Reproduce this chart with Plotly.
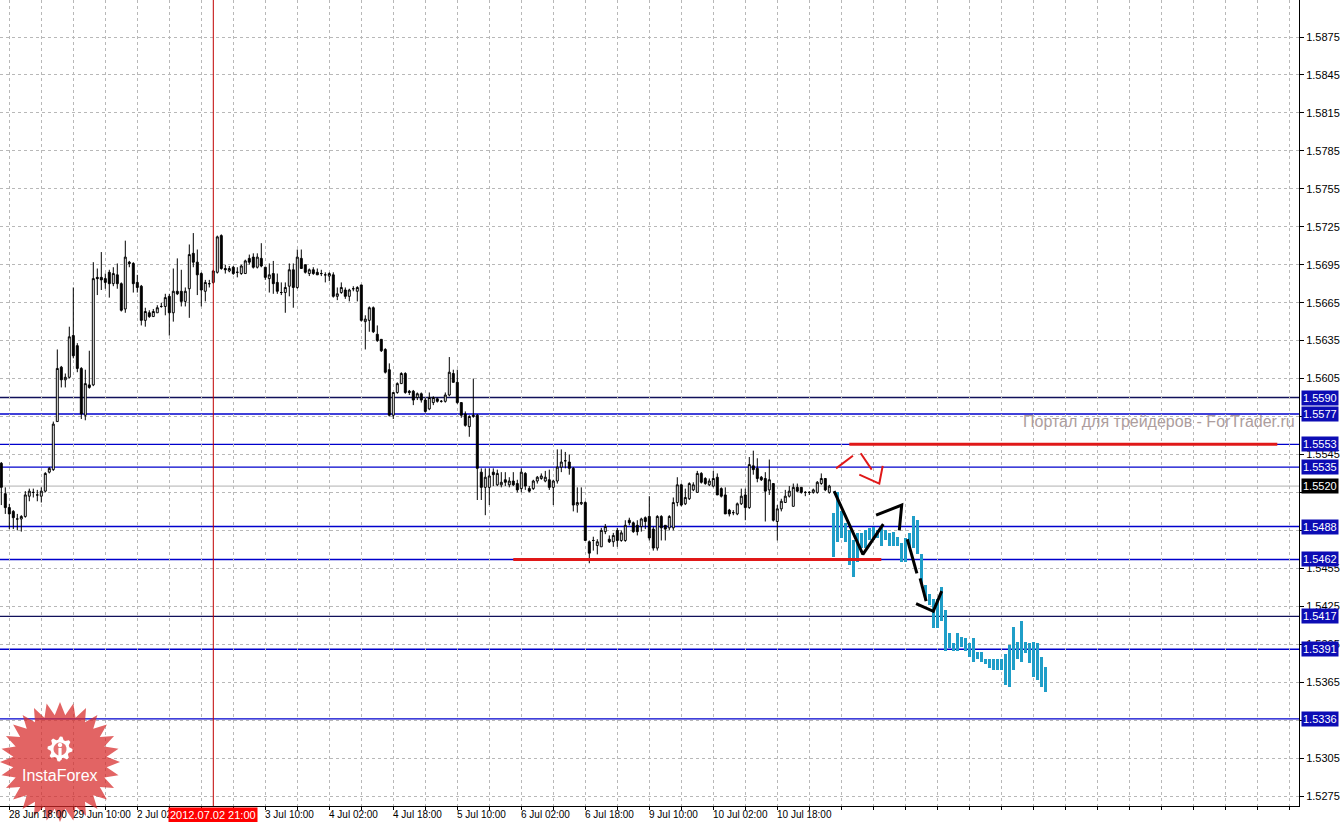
import numpy as np
import plotly.graph_objects as go

# ---------------- data (GBPUSD H1) ----------------
open_ = [1.5538,1.5514,1.5503,1.5500,1.5494,1.5494,1.5496,1.5512,1.5515,1.5513,
         1.5512,1.5516,1.5531,1.5533,1.5571,1.5614,1.5604,1.5606,1.5639,1.5631,
         1.5613,1.5576,1.5600,1.5600,1.5685,1.5685,1.5684,1.5689,1.5680,1.5687,
         1.5680,1.5660,1.5697,1.5696,1.5681,1.5678,1.5651,1.5657,1.5654,1.5657,
         1.5662,1.5662,1.5670,1.5657,1.5674,1.5674,1.5666,1.5676,1.5704,1.5697,
         1.5688,1.5674,1.5680,1.5681,1.5689,1.5718,1.5692,1.5690,1.5693,1.5689,
         1.5688,1.5688,1.5700,1.5701,1.5693,1.5700,1.5693,1.5684,1.5688,1.5681,
         1.5673,1.5673,1.5678,1.5691,1.5677,1.5700,1.5695,1.5688,1.5691,1.5689,
         1.5688,1.5687,1.5686,1.5687,1.5670,1.5673,1.5675,1.5670,1.5676,1.5674,
         1.5679,1.5650,1.5651,1.5661,1.5640,1.5636,1.5628,1.5612,1.5576,1.5594,
         1.5601,1.5609,1.5595,1.5595,1.5590,1.5593,1.5588,1.5581,1.5586,1.5589,
         1.5587,1.5587,1.5592,1.5609,1.5602,1.5586,1.5577,1.5567,1.5575,1.5576,
         1.5531,1.5519,1.5519,1.5531,1.5521,1.5521,1.5525,1.5521,1.5524,1.5522,
         1.5518,1.5530,1.5518,1.5518,1.5524,1.5526,1.5524,1.5525,1.5519,1.5524,
         1.5535,1.5540,1.5539,1.5534,1.5505,1.5506,1.5507,1.5476,1.5477,1.5473,
         1.5472,1.5484,1.5478,1.5476,1.5485,1.5477,1.5477,1.5493,1.5491,1.5489,
         1.5488,1.5495,1.5496,1.5486,1.5471,1.5496,1.5489,1.5487,1.5487,1.5507,
         1.5521,1.5506,1.5510,1.5517,1.5515,1.5530,1.5526,1.5521,1.5520,1.5527,
         1.5518,1.5513,1.5501,1.5499,1.5498,1.5506,1.5513,1.5503,1.5536,1.5534,
         1.5527,1.5526,1.5517,1.5522,1.5492,1.5502,1.5507,1.5512,1.5504,1.5519,
         1.5519,1.5515,1.5515,1.5515,1.5515,1.5522,1.5526,1.5515]
high = [1.5539,1.5519,1.5506,1.5501,1.5498,1.5497,1.5516,1.5518,1.5518,1.5517,
        1.5519,1.5531,1.5535,1.5571,1.5628,1.5615,1.5609,1.5646,1.5677,1.5633,
        1.5614,1.5612,1.5627,1.5697,1.5692,1.5705,1.5688,1.5691,1.5693,1.5696,
        1.5681,1.5714,1.5698,1.5697,1.5687,1.5679,1.5661,1.5659,1.5660,1.5663,
        1.5665,1.5672,1.5672,1.5692,1.5700,1.5691,1.5677,1.5711,1.5720,1.5707,
        1.5689,1.5683,1.5683,1.5691,1.5718,1.5719,1.5695,1.5694,1.5694,1.5693,
        1.5695,1.5699,1.5703,1.5704,1.5704,1.5712,1.5693,1.5696,1.5698,1.5688,
        1.5681,1.5681,1.5696,1.5696,1.5707,1.5707,1.5695,1.5692,1.5693,1.5692,
        1.5691,1.5689,1.5689,1.5689,1.5677,1.5681,1.5677,1.5676,1.5678,1.5678,
        1.5679,1.5655,1.5662,1.5662,1.5647,1.5636,1.5629,1.5617,1.5594,1.5602,
        1.5610,1.5610,1.5596,1.5596,1.5594,1.5594,1.5590,1.5594,1.5591,1.5590,
        1.5588,1.5594,1.5622,1.5612,1.5612,1.5586,1.5579,1.5576,1.5605,1.5577,
        1.5534,1.5534,1.5534,1.5534,1.5533,1.5531,1.5531,1.5527,1.5531,1.5525,
        1.5534,1.5531,1.5520,1.5525,1.5528,1.5530,1.5532,1.5533,1.5525,1.5549,
        1.5549,1.5547,1.5545,1.5535,1.5519,1.5519,1.5508,1.5477,1.5480,1.5478,
        1.5487,1.5490,1.5481,1.5483,1.5487,1.5485,1.5493,1.5495,1.5492,1.5493,
        1.5495,1.5496,1.5512,1.5488,1.5497,1.5497,1.5489,1.5497,1.5511,1.5527,
        1.5522,1.5518,1.5523,1.5523,1.5532,1.5531,1.5527,1.5526,1.5532,1.5530,
        1.5519,1.5519,1.5502,1.5501,1.5507,1.5518,1.5518,1.5543,1.5548,1.5542,
        1.5528,1.5531,1.5541,1.5522,1.5505,1.5510,1.5517,1.5520,1.5522,1.5522,
        1.5519,1.5516,1.5516,1.5518,1.5524,1.5530,1.5526,1.5521]
low = [1.5505,1.5498,1.5486,1.5486,1.5485,1.5484,1.5495,1.5508,1.5511,1.5508,
       1.5507,1.5515,1.5530,1.5532,1.5571,1.5598,1.5598,1.5605,1.5621,1.5610,
       1.5573,1.5572,1.5597,1.5599,1.5671,1.5675,1.5676,1.5669,1.5678,1.5676,
       1.5658,1.5657,1.5693,1.5673,1.5673,1.5647,1.5646,1.5653,1.5654,1.5657,
       1.5661,1.5655,1.5639,1.5650,1.5671,1.5662,1.5662,1.5653,1.5693,1.5671,
       1.5662,1.5666,1.5677,1.5680,1.5688,1.5691,1.5688,1.5689,1.5687,1.5685,
       1.5687,1.5688,1.5695,1.5692,1.5692,1.5693,1.5683,1.5673,1.5672,1.5672,
       1.5671,1.5657,1.5670,1.5661,1.5676,1.5692,1.5688,1.5686,1.5687,1.5687,
       1.5686,1.5681,1.5682,1.5669,1.5667,1.5672,1.5668,1.5666,1.5674,1.5666,
       1.5650,1.5628,1.5642,1.5641,1.5634,1.5626,1.5609,1.5575,1.5573,1.5593,
       1.5601,1.5593,1.5592,1.5584,1.5588,1.5586,1.5578,1.5580,1.5584,1.5586,
       1.5586,1.5586,1.5591,1.5602,1.5585,1.5574,1.5567,1.5559,1.5574,1.5509,
       1.5509,1.5497,1.5505,1.5520,1.5520,1.5519,1.5520,1.5519,1.5520,1.5515,
       1.5515,1.5517,1.5515,1.5517,1.5522,1.5525,1.5523,1.5517,1.5505,1.5522,
       1.5531,1.5534,1.5529,1.5500,1.5499,1.5505,1.5477,1.5459,1.5469,1.5466,
       1.5472,1.5482,1.5475,1.5472,1.5472,1.5476,1.5476,1.5489,1.5483,1.5481,
       1.5484,1.5486,1.5477,1.5469,1.5469,1.5477,1.5477,1.5485,1.5485,1.5504,
       1.5504,1.5505,1.5509,1.5516,1.5515,1.5522,1.5521,1.5520,1.5519,1.5513,
       1.5511,1.5498,1.5496,1.5497,1.5497,1.5505,1.5493,1.5502,1.5529,1.5523,
       1.5524,1.5492,1.5513,1.5492,1.5477,1.5500,1.5507,1.5511,1.5504,1.5515,
       1.5514,1.5512,1.5513,1.5514,1.5514,1.5521,1.5516,1.5514]
close = [1.5519,1.5503,1.5498,1.5495,1.5494,1.5496,1.5513,1.5516,1.5515,1.5513,
         1.5516,1.5530,1.5534,1.5569,1.5613,1.5604,1.5606,1.5638,1.5623,1.5613,
         1.5577,1.5601,1.5598,1.5684,1.5684,1.5683,1.5681,1.5680,1.5688,1.5680,
         1.5659,1.5701,1.5696,1.5680,1.5677,1.5651,1.5658,1.5654,1.5658,1.5661,
         1.5662,1.5669,1.5657,1.5674,1.5672,1.5666,1.5674,1.5703,1.5697,1.5687,
         1.5675,1.5681,1.5680,1.5690,1.5717,1.5692,1.5691,1.5692,1.5688,1.5689,
         1.5694,1.5698,1.5697,1.5693,1.5701,1.5694,1.5685,1.5687,1.5680,1.5674,
         1.5673,1.5677,1.5691,1.5677,1.5701,1.5692,1.5689,1.5691,1.5688,1.5687,
         1.5688,1.5687,1.5688,1.5670,1.5672,1.5677,1.5670,1.5675,1.5676,1.5677,
         1.5651,1.5652,1.5661,1.5642,1.5635,1.5627,1.5610,1.5576,1.5594,1.5601,
         1.5609,1.5594,1.5594,1.5588,1.5593,1.5588,1.5579,1.5590,1.5590,1.5587,
         1.5587,1.5592,1.5610,1.5602,1.5586,1.5576,1.5568,1.5575,1.5576,1.5534,
         1.5519,1.5527,1.5528,1.5529,1.5530,1.5523,1.5523,1.5524,1.5521,1.5517,
         1.5531,1.5520,1.5516,1.5524,1.5527,1.5528,1.5527,1.5519,1.5524,1.5535,
         1.5539,1.5540,1.5534,1.5505,1.5507,1.5507,1.5477,1.5467,1.5477,1.5476,
         1.5485,1.5488,1.5476,1.5481,1.5477,1.5483,1.5489,1.5491,1.5484,1.5484,
         1.5494,1.5492,1.5479,1.5471,1.5496,1.5487,1.5486,1.5496,1.5507,1.5521,
         1.5505,1.5511,1.5522,1.5521,1.5530,1.5523,1.5522,1.5524,1.5526,1.5513,
         1.5512,1.5498,1.5498,1.5499,1.5506,1.5512,1.5503,1.5537,1.5533,1.5526,
         1.5525,1.5516,1.5525,1.5493,1.5502,1.5508,1.5512,1.5516,1.5519,1.5516,
         1.5515,1.5515,1.5515,1.5517,1.5523,1.5526,1.5517,1.5520]

# forecast bars (cyan), one per hour after the last real candle
fc_high = [1.5499,1.5515,1.5500,1.5491,1.5485,1.5477,1.5483,1.5483,1.5485,1.5487,
           1.5488,1.5485,1.5487,1.5485,1.5483,1.5484,1.5480,1.5475,1.5479,1.5483,
           1.5496,1.5493,1.5466,1.5442,1.5435,1.5431,1.5431,1.5440,1.5422,1.5404,
           1.5396,1.5404,1.5401,1.5400,1.5396,1.5400,1.5389,1.5389,1.5383,1.5383,
           1.5383,1.5383,1.5383,1.5387,1.5394,1.5409,1.5397,1.5413,1.5397,1.5396,
           1.5397,1.5396,1.5385,1.5377]
fc_low = [1.5464,1.5476,1.5479,1.5476,1.5458,1.5448,1.5460,1.5471,1.5471,1.5477,
          1.5477,1.5479,1.5473,1.5477,1.5473,1.5473,1.5473,1.5460,1.5460,1.5471,
          1.5471,1.5466,1.5443,1.5430,1.5426,1.5408,1.5408,1.5413,1.5390,1.5392,
          1.5390,1.5390,1.5393,1.5390,1.5385,1.5381,1.5383,1.5381,1.5379,1.5376,
          1.5375,1.5375,1.5375,1.5363,1.5361,1.5375,1.5383,1.5381,1.5388,1.5380,
          1.5369,1.5367,1.5361,1.5357]

# horizontal support / resistance levels
levels = [1.5590, 1.5577, 1.5553, 1.5535, 1.5488, 1.5462, 1.5417, 1.5391, 1.5336]
level_colors = ["#10105a", "#0000cc", "#0000cc", "#0000cc", "#0000cc",
                "#0000cc", "#10105a", "#0000cc", "#0000cc"]
current_price = 1.5520

# thick red horizontal zones: (price, start bar, end bar)
red_level_price = [1.5553, 1.5462]
red_level_start = [212, 128]
red_level_end = [319, 220]

# hand drawn zig-zag (bar index, price)
zz_black_x = [[208.2, 215.4, 220.5], [218.7, 225.1, 224.5], [226.5, 228.9], [229.7, 231.2],
              [228.7, 233.0, 235.1]]
zz_black_y = [[1.5516, 1.5466, 1.5490], [1.5497, 1.5505, 1.5485], [1.5478, 1.5451],
              [1.5447, 1.5429], [1.5427, 1.5421, 1.5437]]
zz_red_x = [[208.7, 212.9], [214.85, 217.6], [214.5, 219.5, 220.35]]
zz_red_y = [[1.5534, 1.5544], [1.5546, 1.5533], [1.5529, 1.5522, 1.5536]]

# time axis labels (bar index of the labelled hour)
x_label_pos = [2, 18, 34, 66, 82, 98, 114, 130, 146, 162, 178, 194]
x_labels = ["28 Jun 18:00", "29 Jun 10:00", "2 Jul 02:00", "3 Jul 10:00", "4 Jul 02:00",
            "4 Jul 18:00", "5 Jul 10:00", "6 Jul 02:00", "6 Jul 18:00", "9 Jul 10:00",
            "10 Jul 02:00", "10 Jul 18:00"]
cursor_bar = 53
cursor_label = "2012.07.02 21:00"

y_ticks = [1.5275, 1.5305, 1.5335, 1.5365, 1.5395, 1.5425, 1.5455, 1.5485, 1.5515,
           1.5545, 1.5575, 1.5605, 1.5635, 1.5665, 1.5695, 1.5725, 1.5755, 1.5785,
           1.5815, 1.5845, 1.5875, 1.5905]
# tick labels (almost) fully hidden under a level tag in the reference
y_ticks_hidden = [1.5335, 1.5485, 1.5515, 1.5575]

# ---------------- figure ----------------
W, H = 1344, 822
ML, MR, MT, MB = 0, 45, 0, 16
PW, PH = W - ML - MR, H - MT - MB
FONT = "Liberation Sans, Arial, sans-serif"

n = len(open_)
xs = list(range(n))
fx = list(range(n, n + len(fc_high)))

fig = go.Figure()

fig.add_trace(go.Candlestick(
    x=xs, open=open_, high=high, low=low, close=close,
    increasing=dict(line=dict(color="black", width=1), fillcolor="white"),
    decreasing=dict(line=dict(color="black", width=1), fillcolor="black"),
    whiskerwidth=0, hoverinfo="skip", showlegend=False))

fig.add_trace(go.Bar(
    x=fx, y=[h - l for h, l in zip(fc_high, fc_low)], base=fc_low, width=0.75,
    marker=dict(color="#1f9ec8", line=dict(width=0)), hoverinfo="skip", showlegend=False))

for p, a, b in zip(red_level_price, red_level_start, red_level_end):
    fig.add_trace(go.Scatter(x=[a, b], y=[p, p], mode="lines",
                             line=dict(color="#e01818", width=3), hoverinfo="skip",
                             showlegend=False))

for sx, sy in zip(zz_black_x, zz_black_y):
    fig.add_trace(go.Scatter(x=sx, y=sy, mode="lines",
                             line=dict(color="black", width=3), hoverinfo="skip",
                             showlegend=False))
for sx, sy in zip(zz_red_x, zz_red_y):
    fig.add_trace(go.Scatter(x=sx, y=sy, mode="lines",
                             line=dict(color="#e01818", width=2), hoverinfo="skip",
                             showlegend=False))

shapes = []
# current price line
shapes.append(dict(type="line", xref="paper", x0=0, x1=1, yref="y", y0=current_price,
                   y1=current_price, line=dict(color="#b0b0b0", width=1), layer="between"))
for lv, c in zip(levels, level_colors):
    shapes.append(dict(type="line", xref="paper", x0=0, x1=1, yref="y", y0=lv, y1=lv,
                       line=dict(color=c, width=1.4), layer="between"))
# cursor vertical line
shapes.append(dict(type="line", xref="x", x0=cursor_bar, x1=cursor_bar, yref="paper",
                   y0=0, y1=1, line=dict(color="#c00000", width=1), layer="above"))


# ---- InstaForex badge (decoration, paper coords) ----
def px2paper(px, py):
    return (px - ML) / PW, 1 - (py - MT) / PH


def poly_path(pts):
    s = ""
    for i, (px, py) in enumerate(pts):
        u, v = px2paper(px, py)
        s += ("M" if i == 0 else "L") + f"{u:.5f},{v:.5f} "
    return s + "Z"


cx, cy, R, r = 60, 762, 60, 47
nsp = 28
star = []
for i in range(2 * nsp):
    ang = -np.pi / 2 + i * np.pi / nsp
    rr = R if i % 2 == 0 else r
    star.append((cx + rr * np.cos(ang), cy + rr * np.sin(ang)))
shapes.append(dict(type="path", xref="paper", yref="paper", path=poly_path(star),
                   fillcolor="rgba(215,40,40,0.72)", line=dict(width=0), layer="above"))

gx, gy = 60, 749
gear = []
nt = 8
for i in range(nt * 4):
    ang = -np.pi / 2 + i * 2 * np.pi / (nt * 4)
    rr = 12.5 if (i % 4) in (0, 1) else 9.5
    gear.append((gx + rr * np.cos(ang), gy + rr * np.sin(ang)))
shapes.append(dict(type="path", xref="paper", yref="paper", path=poly_path(gear),
                   fillcolor="white", line=dict(width=0), layer="above"))
inner = [(gx + 6.5 * np.cos(t), gy + 6.5 * np.sin(t)) for t in np.linspace(0, 2 * np.pi, 24)]
shapes.append(dict(type="path", xref="paper", yref="paper", path=poly_path(inner),
                   fillcolor="#e57272", line=dict(width=0), layer="above"))
stem = [(gx - 1.6, gy - 1), (gx + 1.6, gy - 1), (gx + 1.6, gy + 11), (gx - 1.6, gy + 11)]
shapes.append(dict(type="path", xref="paper", yref="paper", path=poly_path(stem),
                   fillcolor="white", line=dict(width=0), layer="above"))
head = [(gx + 2.2 * np.cos(t), gy - 4 + 2.2 * np.sin(t)) for t in np.linspace(0, 2 * np.pi, 16)]
shapes.append(dict(type="path", xref="paper", yref="paper", path=poly_path(head),
                   fillcolor="white", line=dict(width=0), layer="above"))

annotations = []
# watermark
annotations.append(dict(xref="paper", yref="paper", x=1, y=1 - 421 / PH, xanchor="right",
                        yanchor="middle", xshift=-2, showarrow=False,
                        text="Портал для трейдеров - ForTrader.ru",
                        font=dict(family=FONT, size=16, color="#ad9d9d")))
# time labels
for pos, lab in zip(x_label_pos, x_labels):
    annotations.append(dict(xref="x", yref="paper", x=pos, y=0, xanchor="left",
                            yanchor="top", yshift=-1, xshift=-2, showarrow=False, text=lab,
                            font=dict(family=FONT, size=10, color="black")))
annotations.append(dict(xref="x", yref="paper", x=cursor_bar, y=0, xanchor="center",
                        yanchor="top", yshift=-1, showarrow=False, text=cursor_label,
                        bgcolor="#ff0000", borderpad=1,
                        font=dict(family=FONT, size=11, color="white")))
# level price tags
for lv in levels:
    annotations.append(dict(xref="paper", yref="y", x=1, y=lv, xanchor="left",
                            yanchor="middle", xshift=2, showarrow=False, text=f"{lv:.4f}",
                            bgcolor="#0c0cb4", borderpad=1,
                            font=dict(family=FONT, size=11, color="white")))
annotations.append(dict(xref="paper", yref="y", x=1, y=current_price, xanchor="left",
                        yanchor="middle", xshift=2, showarrow=False,
                        text=f"{current_price:.4f}", bgcolor="black", borderpad=1,
                        font=dict(family=FONT, size=11, color="white")))
annotations.append(dict(xref="paper", yref="paper", x=px2paper(60, 0)[0],
                        y=px2paper(0, 775)[1], xanchor="center", yanchor="middle",
                        showarrow=False, text="InstaForex",
                        font=dict(family=FONT, size=16, color="white")))

x0 = -0.325
x1 = x0 + PW / 4.0
y_top = 1.590425
y_bot = y_top - PH * 0.00007905

fig.update_layout(
    width=W, height=H, margin=dict(l=ML, r=MR, t=MT, b=MB),
    paper_bgcolor="white", plot_bgcolor="white", showlegend=False,
    shapes=shapes, annotations=annotations, bargap=0,
    xaxis=dict(range=[x0, x1], tickvals=list(range(2, 325, 8)), showticklabels=False,
               ticks="outside", ticklen=3, tickcolor="black",
               showgrid=True, gridcolor="#b8b8b8", griddash="3px,3px", gridwidth=1,
               showline=True, linecolor="black", linewidth=1, zeroline=False,
               rangeslider=dict(visible=False), fixedrange=True),
    yaxis=dict(side="right", range=[y_bot, y_top], tickvals=y_ticks,
               ticktext=["" if v in y_ticks_hidden else f"{v:.4f}" for v in y_ticks],
               ticks="outside", ticklen=4,
               tickcolor="black", tickfont=dict(family=FONT, size=11, color="black"),
               showgrid=True, gridcolor="#b8b8b8", griddash="3px,3px", gridwidth=1,
               showline=True, linecolor="black", linewidth=1, zeroline=False,
               fixedrange=True),
)

fig.write_html("out.html", config={"displayModeBar": False},
               post_script="document.body.style.margin='0';")
